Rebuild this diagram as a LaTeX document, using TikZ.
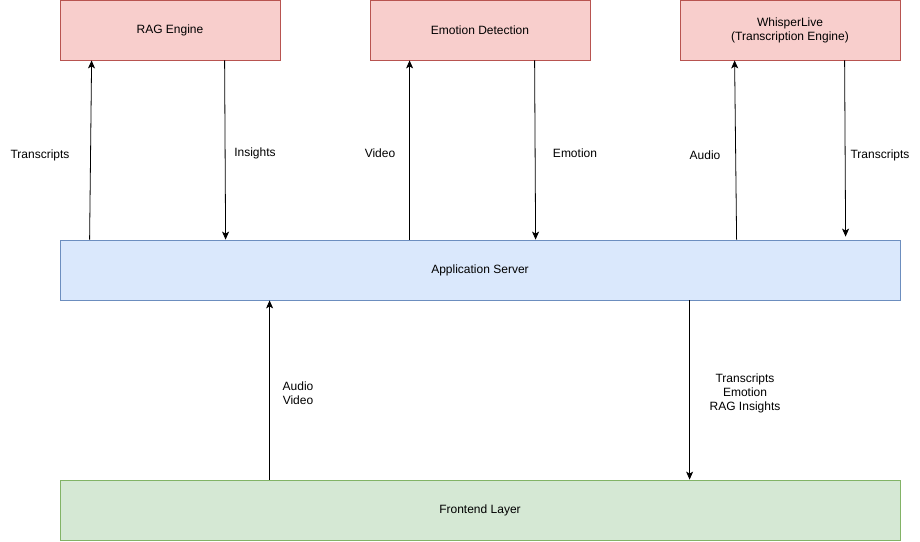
\documentclass[tikz,border=0pt]{standalone}
\usepackage{fontspec}
\setmainfont{Liberation Sans}
\usetikzlibrary{arrows.meta}
\definecolor{redfill}{HTML}{F8CECC}
\definecolor{redline}{HTML}{B85450}
\definecolor{bluefill}{HTML}{DAE8FC}
\definecolor{blueline}{HTML}{6C8EBF}
\definecolor{greenfill}{HTML}{D5E8D4}
\definecolor{greenline}{HTML}{82B366}
\begin{document}
\begin{tikzpicture}[x=1pt, y=-1pt, font=\fontsize{12}{14}\selectfont,
    engine/.style={draw=redline, fill=redfill, minimum width=220pt, minimum height=60pt, inner sep=0pt, align=center, line width=0.8pt},
    layer/.style={minimum width=840pt, minimum height=60pt, inner sep=0pt, line width=0.8pt},
    arr/.style={-{Stealth[length=8pt,width=7pt,inset=2pt]}, line width=0.8pt},
    lbl/.style={inner sep=0pt, align=center}]
    \useasboundingbox (0,0) rectangle (920,541);
    % engines on top
    \node[engine] (rag) at (170,30) {RAG Engine};
    \node[engine] (emo) at (480,30) {Emotion Detection};
    \node[engine] (whisper) at (790,30) {WhisperLive\\(Transcription Engine)};
    % layers
    \node[layer, draw=blueline, fill=bluefill] (srv) at (480,270) {Application Server};
    \node[layer, draw=greenline, fill=greenfill] (front) at (480,510) {Frontend Layer};
    % server <-> engines
    \draw[arr] ([xshift=30pt]srv.north west) -- ([xshift=32pt]rag.south west);
    \draw[arr] ([xshift=165pt]rag.south west) -- ([xshift=166pt]srv.north west);
    \draw[arr] ([xshift=350pt]srv.north west) -- ([xshift=40pt]emo.south west);
    \draw[arr] ([xshift=165pt]emo.south west) -- ([xshift=476pt]srv.north west);
    \draw[arr] ([xshift=677pt]srv.north west) -- ([xshift=55pt]whisper.south west);
    \draw[arr] ([xshift=165pt]whisper.south west) -- ([xshift=786pt,yshift=3pt]srv.north west);
    % frontend <-> server
    \draw[arr] ([xshift=210pt]front.north west) -- ([xshift=210pt]srv.south west);
    \draw[arr] ([xshift=630pt]srv.south west) -- ([xshift=630pt]front.north west);
    % labels
    \node[lbl] (l1) at (40,155) {Transcripts};
    \node[lbl] (l2) at (255,153) {Insights};
    \node[lbl] (l3) at (380,153) {Video};
    \node[lbl] (l4) at (575,153) {Emotion};
    \node[lbl] (l5) at (705,155) {Audio};
    \node[lbl] (l6) at (880,155) {Transcripts};
    \node[lbl] (l7) at (298,393) {Audio\\Video};
    \node[lbl] (l8) at (745,393) {Transcripts\\Emotion\\RAG Insights};
\end{tikzpicture}
\end{document}
